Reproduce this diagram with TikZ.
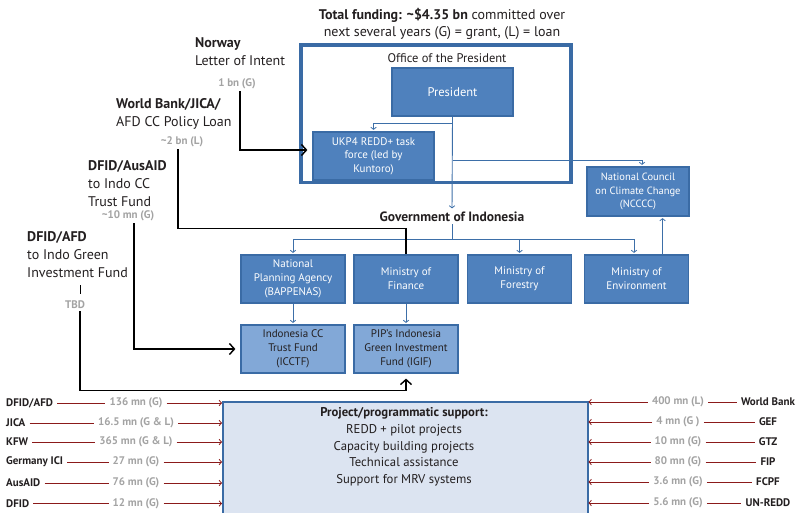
\documentclass[tikz,border=0pt]{standalone}
\usepackage{fontspec}
\setmainfont{PT Sans}
\usetikzlibrary{arrows.meta,calc}

\definecolor{presblue}{HTML}{4F81BD}
\definecolor{edgeblue}{HTML}{3A6BA5}
\definecolor{fundblue}{HTML}{82A8D7}
\definecolor{projfill}{HTML}{DCE4F1}
\definecolor{lineblue}{HTML}{3D6FA8}
\definecolor{feedred}{HTML}{8B1A1A}
\definecolor{amtgray}{HTML}{A3A3A3}
\definecolor{inkdark}{HTML}{231F20}

\begin{document}
\begin{tikzpicture}[
  x=1pt, y=-1pt,
  line join=miter,
  every node/.style={font=\fontsize{14}{17.8}\selectfont, text=inkdark},
  govbox/.style={draw=edgeblue, line width=1.2pt, fill=presblue, text=white,
    font=\fontsize{11}{13.8}\selectfont, align=center,
    minimum width=104, minimum height=48, inner sep=1pt},
  fundbox/.style={govbox, fill=fundblue, text=inkdark},
  tree/.style={draw=lineblue, line width=0.9pt},
  treearrow/.style={tree, -{Straight Barb[length=2.2pt,width=5.5pt,line width=0.8pt]}, shorten >=1.5pt},
  money/.style={draw=black, line width=1.4pt},
  moneyarrow/.style={money, -{Straight Barb[length=5pt,width=11pt,line width=1.4pt]}, shorten >=5pt},
  amt/.style={text=amtgray, font=\fontsize{11}{13}\selectfont\bfseries, inner sep=2pt},
  donor/.style={font=\fontsize{11}{13}\selectfont\bfseries, inner xsep=4pt, inner ysep=1pt},
  flow/.style={text=amtgray, font=\fontsize{11}{13}\selectfont\bfseries, inner xsep=4pt, inner ysep=1pt},
  feed/.style={draw=feedred, line width=0.9pt},
  feedarrow/.style={feed, -{Straight Barb[length=2.4pt,width=5.5pt,line width=0.8pt]}}
]
  \useasboundingbox (0,0) rectangle (799,512);

  % Heading
  \node[align=center] (total) at (442,24)
    {\textbf{Total funding: \textasciitilde\$4.35 bn} committed over\\next several years (G) = grant, (L) = loan};

  % Office of the President
  \node[draw=edgeblue, line width=3.5pt, minimum width=270, minimum height=137.5] (office) at (436,113.75) {};
  \node[font=\fontsize{12.5}{14}\selectfont] (officetitle) at (447,58) {Office of the President};
  \node[govbox, minimum width=121, font=\fontsize{12.5}{14}\selectfont] (pres) at (452.5,92) {President};
  \node[govbox, minimum width=121, font=\fontsize{11}{13.5}\selectfont] (ukp) at (373.5,156)
    {UKP4 REDD+ task\\force (led by\\Kuntoro)};
  \node[govbox, minimum width=102, minimum height=49, font=\fontsize{10.5}{13.5}\selectfont] (nccc) at (638,191.5)
    {National Council\\on Climate Change\\(NCCCC)};

  % Government of Indonesia
  \node[font=\fontsize{13.5}{15}\selectfont\bfseries, inner sep=2pt] (gov) at (452,217) {Government of Indonesia};
  \node[govbox] (bap)  at (293,279)   {National\\Planning Agency\\(BAPPENAS)};
  \node[govbox] (fin)  at (406,279)   {Ministry of\\Finance};
  \node[govbox] (frst) at (519.5,279) {Ministry of\\Forestry};
  \node[govbox] (env)  at (636.5,279) {Ministry of\\Environment};
  \node[fundbox] (icctf) at (293,349) {Indonesia CC\\Trust Fund\\(ICCTF)};
  \node[fundbox] (igif)  at (406,349) {PIP’s Indonesia\\Green Investment\\Fund (IGIF)};

  % Blue reporting lines
  \draw[treearrow] (pres.south) -- (gov.north);
  \draw[treearrow] ($(pres.south)+(0,7)$) -| (ukp.north);
  \draw[treearrow] ($(pres.south)+(0,44)$) -| ([xshift=4]nccc.north);
  \draw[tree] (gov.south) -- ++(0,15) coordinate (govbar);
  \draw[treearrow] (govbar) -| (bap.north);
  \draw[treearrow] (govbar) -| (frst.north);
  \draw[treearrow] (govbar) -| ([xshift=-2.5]env.north);
  \draw[treearrow] ([xshift=26]env.north) -- ([xshift=26]env.north |- nccc.south);
  \draw[treearrow] (bap.south) -- (icctf.north);
  \draw[treearrow] (fin.south) -- (igif.north);

  % Bilateral / multilateral commitments
  \node[anchor=north west, align=left, inner sep=0] (nor) at (195,37.5) {\textbf{Norway}\\Letter of Intent};
  \node[amt] (noramt) at (237,84) {1 bn (G)};
  \node[anchor=north west, align=left, inner sep=0] (wb) at (116,98.5) {\textbf{World Bank/JICA/}\\AFD CC Policy Loan};
  \node[amt] (wbamt) at (182,142) {\textasciitilde2 bn (L)};
  \node[anchor=north west, align=left, inner sep=0] (aus) at (88,160.5) {\textbf{DFID/AusAID}\\to Indo CC\\Trust Fund};
  \node[amt] (ausamt) at (128,216) {\textasciitilde10 mn (G)};
  \node[anchor=north west, align=left, inner sep=0] (afd) at (27,231.5) {\textbf{DFID/AFD}\\to Indo Green\\Investment Fund};
  \node[amt] (tbd) at (75,305) {TBD};
  \coordinate (tbdtick) at (80.5,285);

  \draw[moneyarrow] ([xshift=3]noramt.south) |- ($(ukp.west)+(0,-6)$);
  \draw[money] ([xshift=-4]wbamt.south) |- ($(fin.north)+(0,-26)$) -- (fin.north);
  \draw[moneyarrow] ([xshift=6]ausamt.south) |- (icctf.west);
  \draw[money] (tbdtick) -- ++(0,9);
  \draw[moneyarrow] ([xshift=5]tbd.south) |- ($(igif.south)+(0,17)$) -- (igif.south);

  % Project support
  \node[draw=edgeblue, line width=1.5pt, fill=projfill, anchor=north west,
    minimum width=365, minimum height=130] (proj) at (222,401) {};
  \node[align=center, font=\fontsize{12.7}{16.7}\selectfont] (projtxt) at (404,447)
    {\textbf{Project/programmatic support:}\\REDD + pilot projects\\Capacity building projects\\Technical assistance\\Support for MRV systems};

  % Left donors
  \foreach \i/\who/\amount/\yy in {1/{DFID/AFD}/136 mn (G)/403, 2/JICA/16.5 mn (G \& L)/423,
      3/KFW/365 mn (G \& L)/442, 4/Germany ICI/27 mn (G)/462, 5/AusAID/76 mn (G)/483,
      6/DFID/12 mn (G)/503.5}{
    \node[donor, anchor=west] (ld\i) at (2,\yy) {\who};
    \node[flow] (la\i) at (136,\yy) {\amount};
    \draw[feed] (ld\i) -- (la\i);
    \draw[feedarrow] (la\i) -- (la\i -| proj.west);
  }

  % Right donors
  \foreach \i/\who/\amount/\yy in {1/World Bank/400 mn (L)/402, 2/GEF/4 mn (G )/422,
      3/GTZ/10 mn (G)/442, 4/FIP/80 mn (G)/462, 5/FCPF/3.6 mn (G)/482,
      6/UN-REDD/5.6 mn (G)/503}{
    \node[donor] (rd\i) at (768,\yy) {\who};
    \node[flow] (ra\i) at (678,\yy) {\amount};
    \draw[feed] (ra\i) -- (rd\i);
    \draw[feedarrow] (ra\i) -- (ra\i -| proj.east);
  }
\end{tikzpicture}
\end{document}
